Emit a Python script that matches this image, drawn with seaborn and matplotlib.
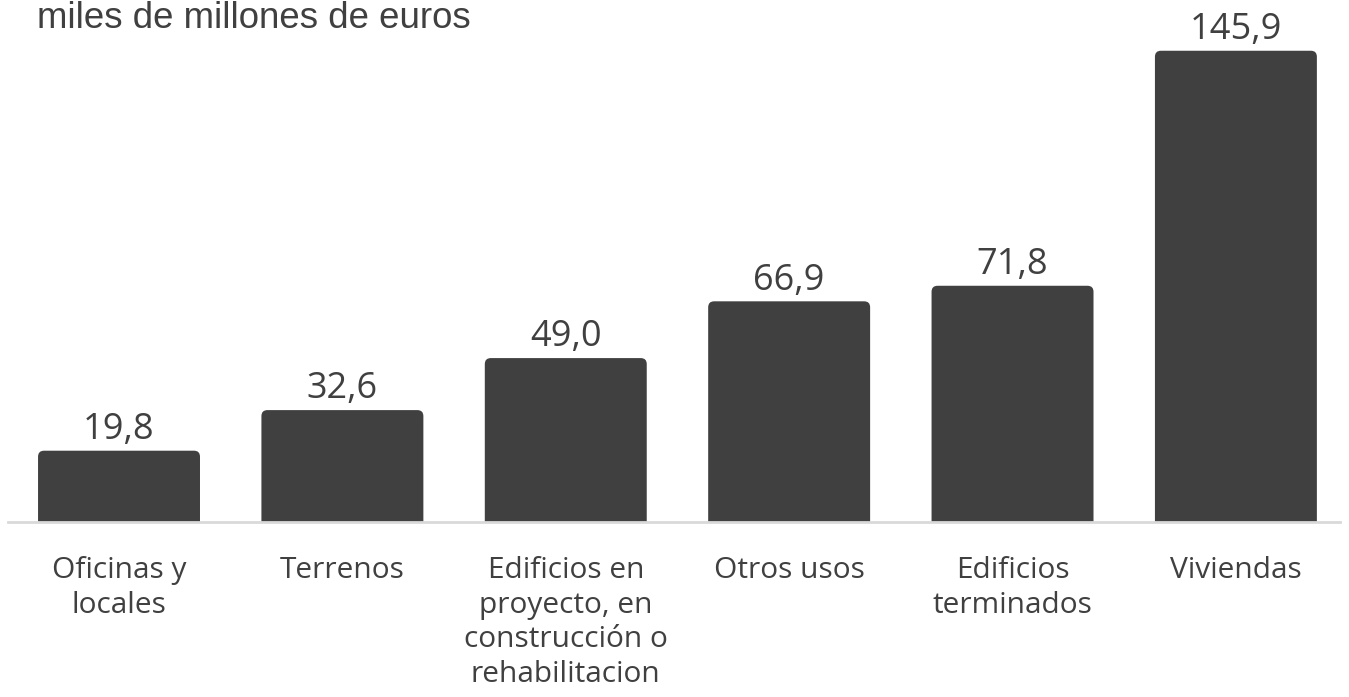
import numpy as np
import matplotlib
matplotlib.use("Agg")
import matplotlib.pyplot as plt
from matplotlib.patches import FancyBboxPatch
import seaborn as sns

# datos (miles de millones de euros)
categorias = [
    "Oficinas y\nlocales",
    "Terrenos",
    "Edificios en\nproyecto, en\nconstrucción o\nrehabilitacion",
    "Otros usos",
    "Edificios\nterminados",
    "Viviendas",
]
valores = [19.8, 32.6, 49.0, 66.9, 71.8, 145.9]
titulo = "miles de millones de euros"

GRIS = "#404040"
W, H = 1349, 697

sns.set_theme(style="white")
fig = plt.figure(figsize=(W / 100, H / 100), dpi=100)
ax = fig.add_axes([8 / W, 1 - 522 / H, 1332 / W, 522 / H])

sns.barplot(x=categorias, y=valores, color=GRIS, width=0.725, saturation=1, ax=ax)

ax.set_xlim(-0.497, 5.466)
ax.set_ylim(-2.68, 161.9)

# barras con esquinas superiores redondeadas
px_x = 1332 / (5.466 + 0.497)
px_y = 522 / (161.9 + 2.68)
r = 6 / px_x
asp = (6 / px_y) / r
for p in list(ax.patches):
    x0, w, h = p.get_x(), p.get_width(), p.get_height()
    p.remove()
    ax.add_patch(FancyBboxPatch((x0, -12), w, h + 12,
                                boxstyle=f"round,pad=0,rounding_size={r}",
                                mutation_aspect=asp, fc=GRIS, ec="none", zorder=1))

# etiquetas de valor
for i, v in enumerate(valores):
    ax.annotate(f"{v:.1f}".replace(".", ","), (i, v), xytext=(0, 2),
                textcoords="offset points", ha="center", va="bottom",
                fontsize=26, color=GRIS, family="Open Sans")

for s in ["top", "left", "right"]:
    ax.spines[s].set_visible(False)
ax.spines["bottom"].set_color("#d9d9d9")
ax.spines["bottom"].set_linewidth(2)
ax.spines["bottom"].set_zorder(3)

ax.set_yticks([])
ax.set_xticks(range(len(categorias)))
ax.set_xticklabels(categorias, fontsize=21.5, color=GRIS,
                   family="Open Sans", linespacing=1.25)
ax.tick_params(axis="x", length=0, pad=24.5)
ax.set_xlabel("")
ax.set_ylabel("")

fig.text(37 / W, 1 - 28 / H, titulo, va="baseline", ha="left",
         fontsize=26.4, color=GRIS, family="Liberation Sans")

fig.savefig("out.png", dpi=100)
